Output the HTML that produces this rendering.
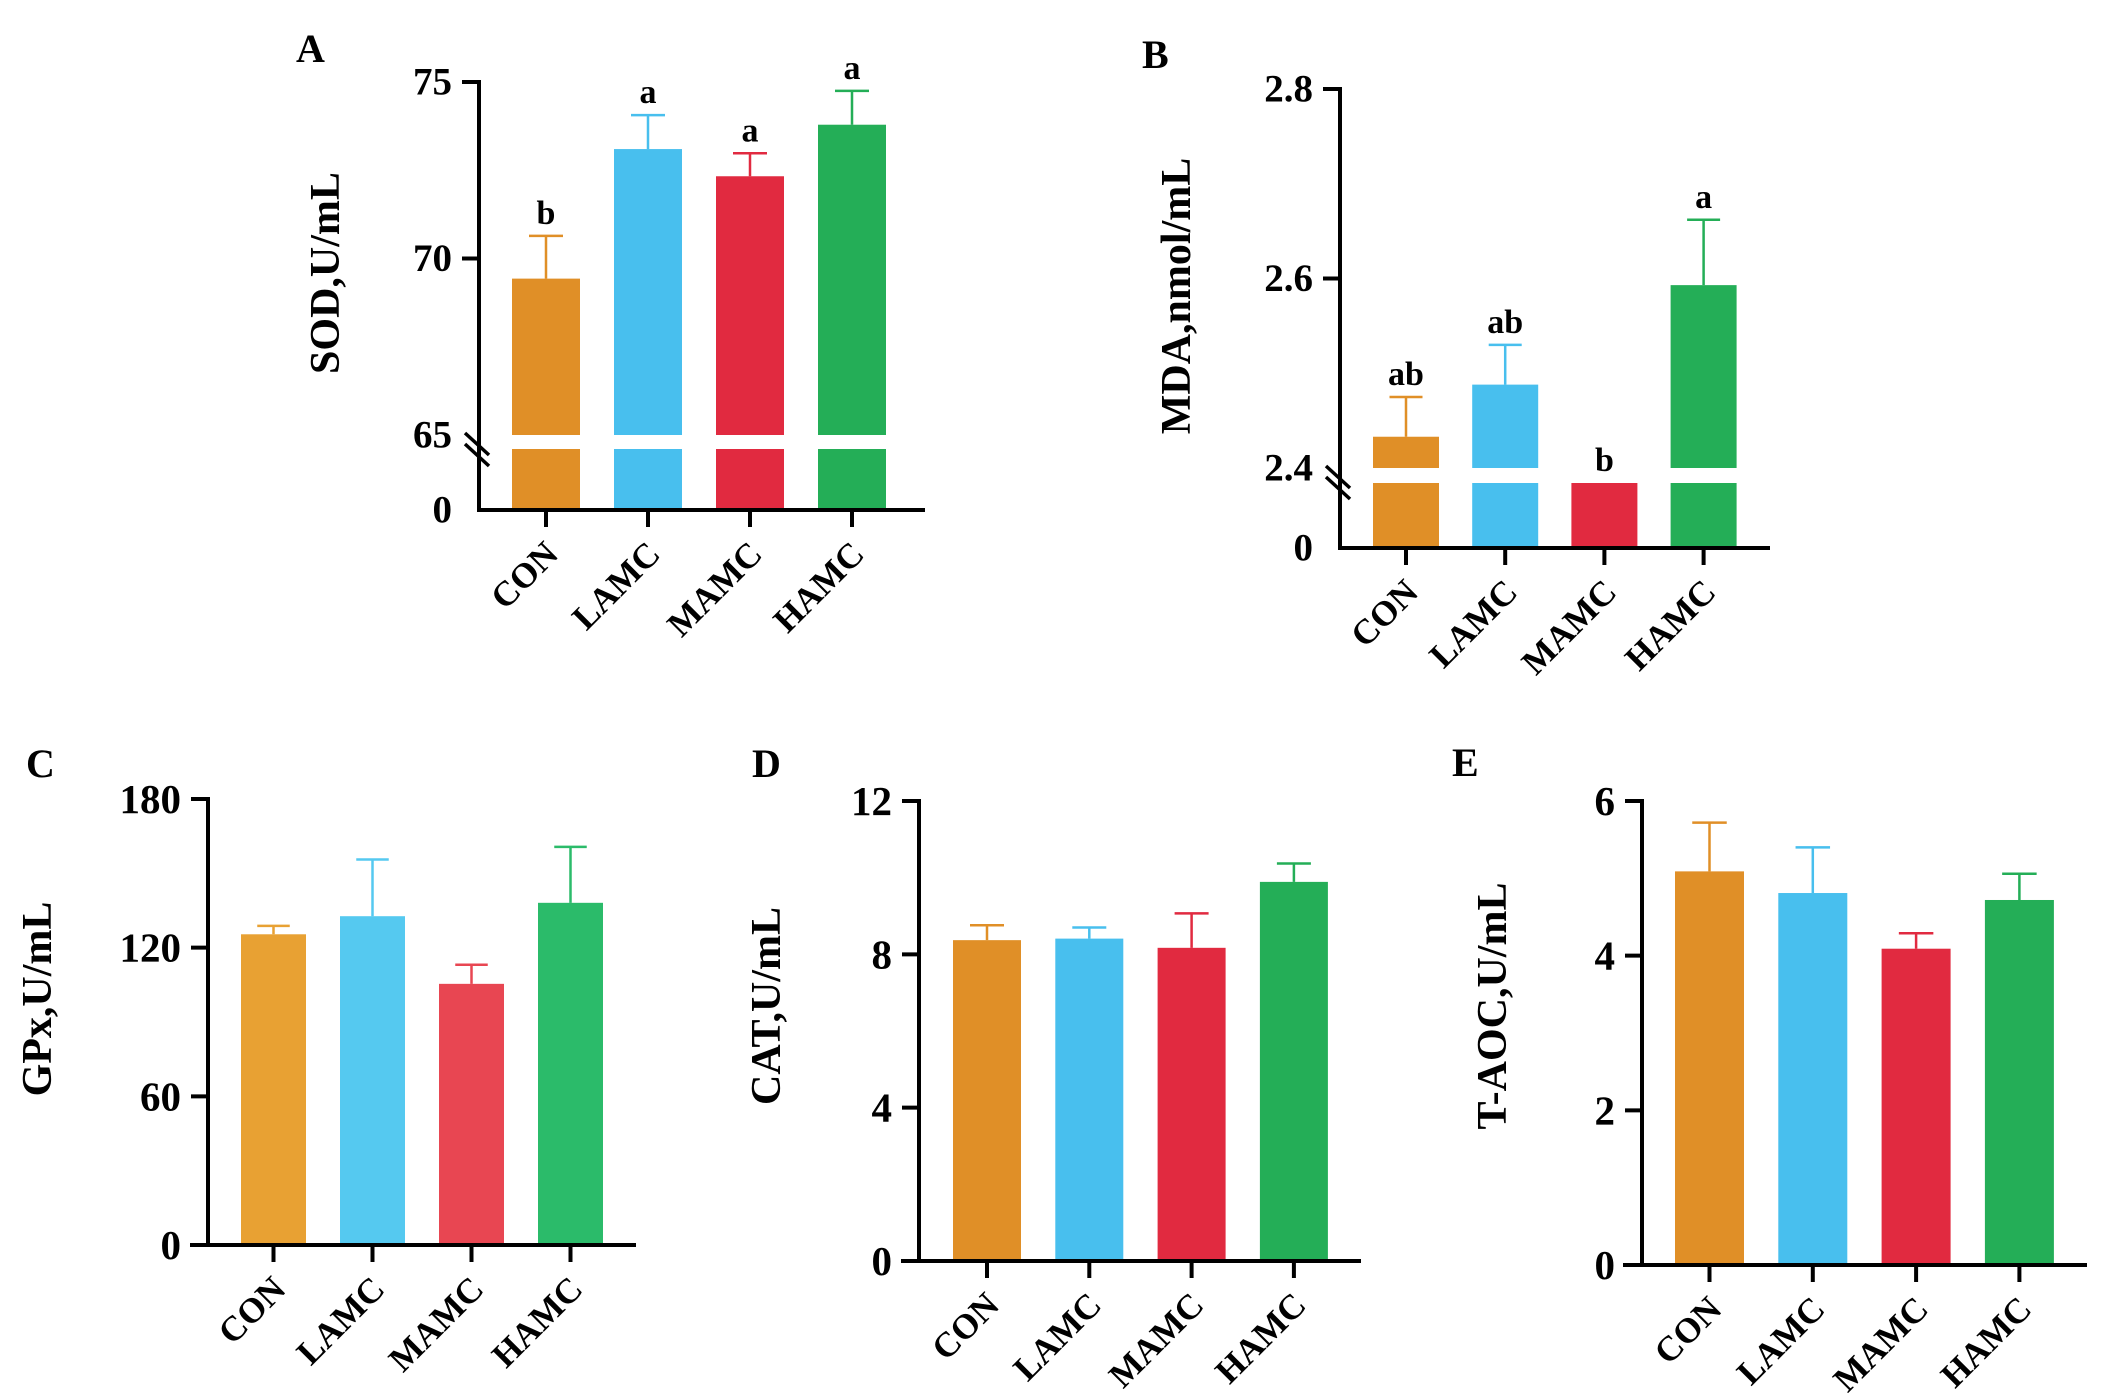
<!DOCTYPE html>
<html><head><meta charset="utf-8"><style>
html,body{margin:0;padding:0;background:#fff;}
svg{display:block;font-family:"Liberation Serif",serif;font-weight:bold;}
</style></head><body>
<svg id="fig" width="2113" height="1393" viewBox="0 0 2113 1393" xmlns="http://www.w3.org/2000/svg"></svg>
<script>
const categories = ["CON","LAMC","MAMC","HAMC"];
const sodValues = [69.43, 73.1, 72.33, 73.79];
const sodErrors = [70.64, 74.06, 72.98, 74.75];
const sodLetters = ["b","a","a","a"];
const sodTicks = [75, 70, 65];
const mdaValues = [2.433, 2.488, 2.39, 2.593];
const mdaErrors = [2.475, 2.530, 2.39, 2.662];
const mdaLetters = ["ab","ab","b","a"];
const mdaTicks = [2.8, 2.6, 2.4];
const gpxValues = [125.4, 132.7, 105.4, 138.1];
const gpxErrors = [128.8, 155.6, 113.1, 160.7];
const gpxTicks = [0, 60, 120, 180];
const catValues = [8.37, 8.41, 8.17, 9.89];
const catErrors = [8.76, 8.70, 9.07, 10.37];
const catTicks = [0, 4, 8, 12];
const taocValues = [5.09, 4.81, 4.09, 4.72];
const taocErrors = [5.72, 5.40, 4.29, 5.06];
const taocTicks = [0, 2, 4, 6];

const NS = "http://www.w3.org/2000/svg";
const svg = document.getElementById("fig");
const dark = ["#e08f27","#48bfee","#e12a40","#24ae57"];
const light = ["#e8a133","#55c9f0","#e84652","#2bbb6a"];

function mk(tag, attrs, parent){
  const e = document.createElementNS(NS, tag);
  for (const k in attrs) e.setAttribute(k, attrs[k]);
  (parent||svg).appendChild(e);
  return e;
}
function txt(parent, x, y, s, size, anchor, extra){
  const t = mk("text", Object.assign({x:x, y:y, "font-size":size, "text-anchor":anchor||"middle", fill:"#000"}, extra||{}), parent);
  t.textContent = s;
  return t;
}

function panel(p){
  const g = mk("g", {});
  
  
  const L = txt(g, p.letterX, p.letterY, p.letter, 40, "start");
  
  
  const T = txt(g, p.titleX, p.titleY, p.title, 42, "middle", {transform:"rotate(-90 "+p.titleX+" "+p.titleY+")", "dominant-baseline":"central"});
  
  
  for (let i=0;i<categories.length;i++){
    const x = p.barX0 + i*p.barStep;
    const cx = x + p.barW/2;
    const col = p.colors[i];
    const v = p.values[i], e = p.errors[i];
    if (p.brk){
      const lower = mk("rect", {x:x, y:p.brk.lowTop, width:p.barW, height:p.axisY-p.brk.lowTop, fill:col}, g);
      
      
      if (v > p.brk.val){
        const yt = p.scale(v);
        const up = mk("rect", {x:x, y:yt, width:p.barW, height:p.brk.upBottom-yt, fill:col}, g);
        
        
      }
    } else {
      const yt = p.scale(v);
      const r = mk("rect", {x:x, y:yt, width:p.barW, height:p.axisY-yt, fill:col}, g);
      
      
    }
    let topY;
    if (e > v){
      const ye = p.scale(e), yb = p.scale(v);
      const el = mk("path", {d:"M"+cx+" "+yb+"V"+ye+"M"+(cx-p.barW/4)+" "+ye+"H"+(cx+p.barW/4), stroke:col, "stroke-width":2.5, fill:"none"}, g);
      
      
      topY = ye;
    } else {
      topY = p.brk ? p.brk.lowTop : p.scale(v);
    }
    if (p.letters){
      const s = txt(g, cx, topY-12, p.letters[i], 34);
      
      
    }
    mk("line", {x1:cx, y1:p.axisY, x2:cx, y2:p.axisY+17, stroke:"#000", "stroke-width":4}, g);
    const lx = cx+14, ly = p.axisY+46;
    const cl = txt(g, lx, ly, categories[i], 35, "end", {transform:"rotate(-45 "+lx+" "+ly+")"});
    
    
  }
  const ya = mk("line", {x1:p.axisX, y1:p.scale(Math.max.apply(null,p.ticks))-2, x2:p.axisX, y2:p.axisY+2, stroke:"#000", "stroke-width":4}, g);
  
  
  const xa = mk("line", {x1:p.xStart, y1:p.axisY, x2:p.xEnd, y2:p.axisY, stroke:"#000", "stroke-width":4}, g);
  
  
  for (const t of p.ticks){
    const y = p.scale(t);
    if (!(p.brk && t===p.brk.val)) mk("line", {x1:p.axisX-17, y1:y, x2:p.axisX, y2:y, stroke:"#000", "stroke-width":4}, g);
    const tl = txt(g, p.axisX-27, y, String(t), p.tickFont, "end", {"dominant-baseline":"central"});
    
    
  }
  if (p.brk){
    const zl = txt(g, p.axisX-27, p.axisY, "0", p.tickFont, "end", {"dominant-baseline":"central"});
    
    
    const yb = p.brk.upBottom;
    const bm = mk("path", {d:"M"+(p.axisX-14)+" "+(yb-2)+"L"+(p.axisX+10)+" "+(yb+20)+"M"+(p.axisX-14)+" "+(yb+9)+"L"+(p.axisX+10)+" "+(yb+31), stroke:"#000", "stroke-width":3.5, fill:"none"}, g);
    
    
  }
}

function lin(v0, y0, v1, y1){ return v => y0 + (v - v0) * (y1 - y0) / (v1 - v0); }

panel({id:"sod", letter:"A", letterX:296, letterY:62, title:"SOD,U/mL", titleX:326, titleY:273,
  axisX:479, axisY:510, xStart:479, xEnd:925, barX0:512, barStep:102, barW:68, colors:dark, tickFont:39,
  values:sodValues, errors:sodErrors, letters:sodLetters, ticks:sodTicks,
  scale:lin(65,435,75,82), brk:{val:65, upBottom:435, lowTop:449}});
panel({id:"mda", letter:"B", letterX:1142, letterY:68, title:"MDA,nmol/mL", titleX:1177, titleY:296,
  axisX:1340, axisY:548, xStart:1340, xEnd:1770, barX0:1373, barStep:99.2, barW:66, colors:dark, tickFont:39,
  values:mdaValues, errors:mdaErrors, letters:mdaLetters, ticks:mdaTicks,
  scale:lin(2.4,468,2.8,89), brk:{val:2.4, upBottom:468, lowTop:483}});
panel({id:"gpx", letter:"C", letterX:26, letterY:777, title:"GPx,U/mL", titleX:38, titleY:999,
  axisX:208, axisY:1245, xStart:190, xEnd:636, barX0:241, barStep:99, barW:65, colors:light, tickFont:41,
  values:gpxValues, errors:gpxErrors, ticks:gpxTicks, scale:lin(0,1245,180,799)});
panel({id:"cat", letter:"D", letterX:752, letterY:777, title:"CAT,U/mL", titleX:767, titleY:1006,
  axisX:919, axisY:1261, xStart:901, xEnd:1361, barX0:953, barStep:102.3, barW:68, colors:dark, tickFont:41,
  values:catValues, errors:catErrors, ticks:catTicks, scale:lin(0,1261,12,801)});
panel({id:"taoc", letter:"E", letterX:1452, letterY:776, title:"T-AOC,U/mL", titleX:1493, titleY:1006,
  axisX:1642, axisY:1265, xStart:1623, xEnd:2087, barX0:1675, barStep:103.3, barW:69, colors:dark, tickFont:41,
  values:taocValues, errors:taocErrors, ticks:taocTicks, scale:lin(0,1265,6,801)});
</script>
</body></html>
